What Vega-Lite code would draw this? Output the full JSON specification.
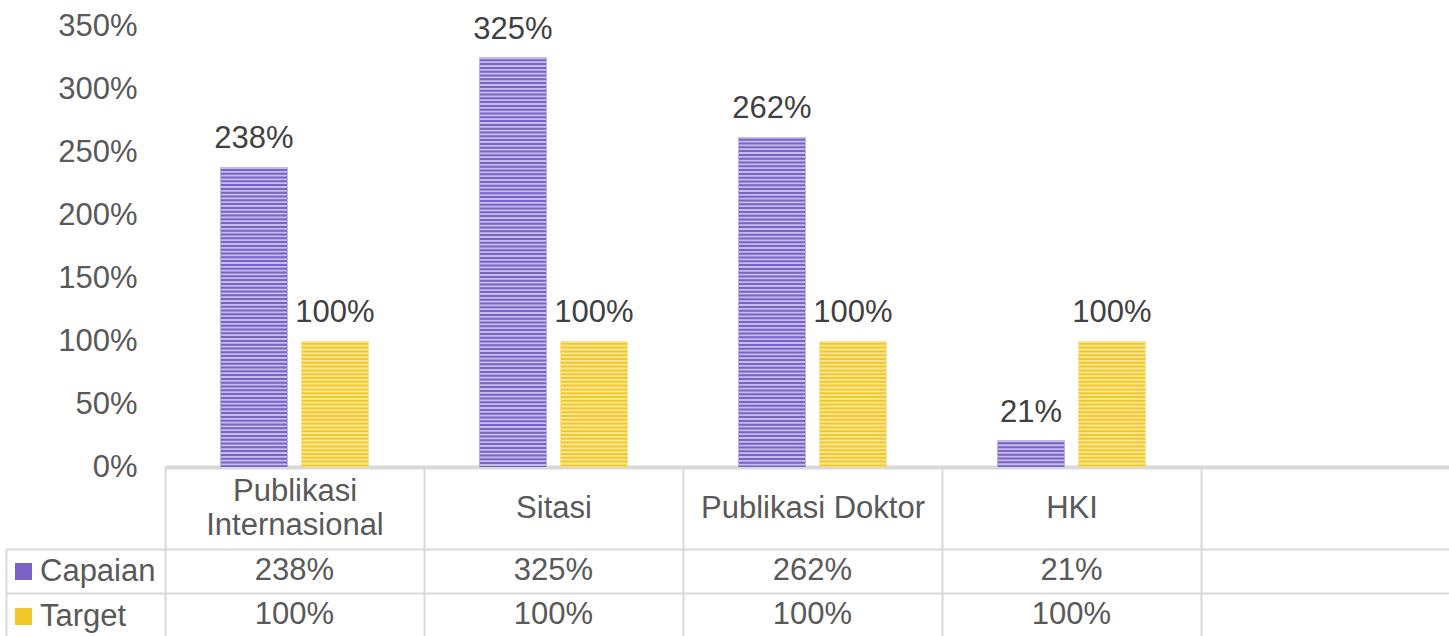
{
  "$schema": "https://vega.github.io/schema/vega-lite/v6.json",
  "autosize": {"type": "pad"},
  "padding": {"left": 5, "top": 10, "right": 0, "bottom": 0},
  "background": "white",
  "bounds": "flush",
  "spacing": 82,
  "datasets": {
    "bars": [
      {"kategori": "Publikasi Internasional", "seri": "Capaian", "nilai": 2.38},
      {"kategori": "Publikasi Internasional", "seri": "Target", "nilai": 1.0},
      {"kategori": "Sitasi", "seri": "Capaian", "nilai": 3.25},
      {"kategori": "Sitasi", "seri": "Target", "nilai": 1.0},
      {"kategori": "Publikasi Doktor", "seri": "Capaian", "nilai": 2.62},
      {"kategori": "Publikasi Doktor", "seri": "Target", "nilai": 1.0},
      {"kategori": "HKI", "seri": "Capaian", "nilai": 0.21},
      {"kategori": "HKI", "seri": "Target", "nilai": 1.0}
    ]
  },
  "resolve": {"scale": {"x": "independent", "y": "independent"}},
  "vconcat": [
    {
      "width": 1295,
      "height": 441,
      "data": {"name": "bars"},
      "encoding": {
        "x": {
          "field": "kategori",
          "type": "nominal",
          "sort": null,
          "scale": {"domain": ["Publikasi Internasional", "Sitasi", "Publikasi Doktor", "HKI", " "], "paddingInner": 0, "paddingOuter": 0},
          "axis": {
            "title": null,
            "labelAngle": 0,
            "labelFontSize": 31,
            "labelColor": "#595959",
            "labelLineHeight": 34,
            "labelBaseline": "middle",
            "labelPadding": {"condition": {"test": "datum.value == 'Publikasi Internasional'", "value": -58}, "value": -41},
            "labelOverlap": false,
            "labelLimit": 400,
            "labelExpr": "datum.label == 'Publikasi Internasional' ? ['Publikasi', 'Internasional'] : datum.label",
            "ticks": true,
            "tickSize": 82,
            "tickColor": "#d9d9d9",
            "tickWidth": 2,
            "tickBand": "extent",
            "domain": true,
            "domainColor": "#d9d9d9",
            "domainWidth": 4,
            "grid": false
          }
        },
        "xOffset": {
          "field": "seri",
          "type": "nominal",
          "scale": {"domain": ["Capaian", "Target"], "paddingInner": 0.173, "paddingOuter": 0.685}
        },
        "y": {
          "field": "nilai",
          "type": "quantitative",
          "scale": {"domain": [0, 3.5], "nice": false, "zero": true},
          "axis": {
            "title": null,
            "values": [0, 0.5, 1, 1.5, 2, 2.5, 3, 3.5],
            "format": ".0%",
            "labelFontSize": 31,
            "labelColor": "#595959",
            "labelPadding": 28,
            "ticks": false,
            "domain": false,
            "grid": false
          }
        }
      },
      "layer": [
        {
          "mark": {"type": "bar"},
          "encoding": {
            "color": {
              "field": "seri",
              "type": "nominal",
              "scale": {"domain": ["Capaian", "Target"], "range": ["#7a62c8", "#f2c829"]},
              "legend": {
                "orient": "none",
                "legendX": -157,
                "legendY": 530,
                "title": null,
                "symbolType": "square",
                "symbolSize": 289,
                "symbolStrokeWidth": 0,
                "symbolOpacity": 1,
                "labelFontSize": 31,
                "labelColor": "#595959",
                "labelOffset": 1,
                "rowPadding": 13,
                "padding": 0
              }
            }
          }
        },
        {
          "mark": {"type": "rule", "strokeDash": [1.8, 2.0], "strokeWidth": 66},
          "encoding": {
            "y2": {"datum": 0},
            "stroke": {
              "condition": {"test": "datum.seri == 'Capaian'", "value": "#c6bce9"},
              "value": "#fae79c"
            }
          }
        },
        {
          "mark": {"type": "text", "fontSize": 31, "color": "#404040", "baseline": "middle", "dy": -28},
          "encoding": {
            "text": {"field": "nilai", "type": "quantitative", "format": ".0%"}
          }
        }
      ]
    },
    {
      "width": 1295,
      "height": 88,
      "data": {"name": "bars"},
      "mark": {"type": "text", "fontSize": 31, "color": "#595959"},
      "encoding": {
        "x": {
          "field": "kategori",
          "type": "nominal",
          "sort": null,
          "scale": {"domain": ["Publikasi Internasional", "Sitasi", "Publikasi Doktor", "HKI", " "], "paddingInner": 0, "paddingOuter": 0},
          "axis": {"title": null, "labels": false, "ticks": false, "domain": false, "grid": true, "gridColor": "#d9d9d9", "gridWidth": 2, "tickBand": "extent"}
        },
        "y": {
          "field": "seri",
          "type": "nominal",
          "scale": {"domain": ["Capaian", "Target"], "paddingInner": 0, "paddingOuter": 0},
          "axis": {"title": null, "labels": false, "offset": 159, "ticks": true, "tickSize": -159, "tickColor": "#d9d9d9", "tickWidth": 2, "tickBand": "extent", "domain": true, "domainColor": "#d9d9d9", "domainWidth": 2, "grid": true, "gridColor": "#d9d9d9", "gridWidth": 2}
        },
        "text": {"field": "nilai", "type": "quantitative", "format": ".0%"}
      }
    }
  ],
  "config": {
    "font": "Liberation Sans",
    "view": {"stroke": null}
  }
}
